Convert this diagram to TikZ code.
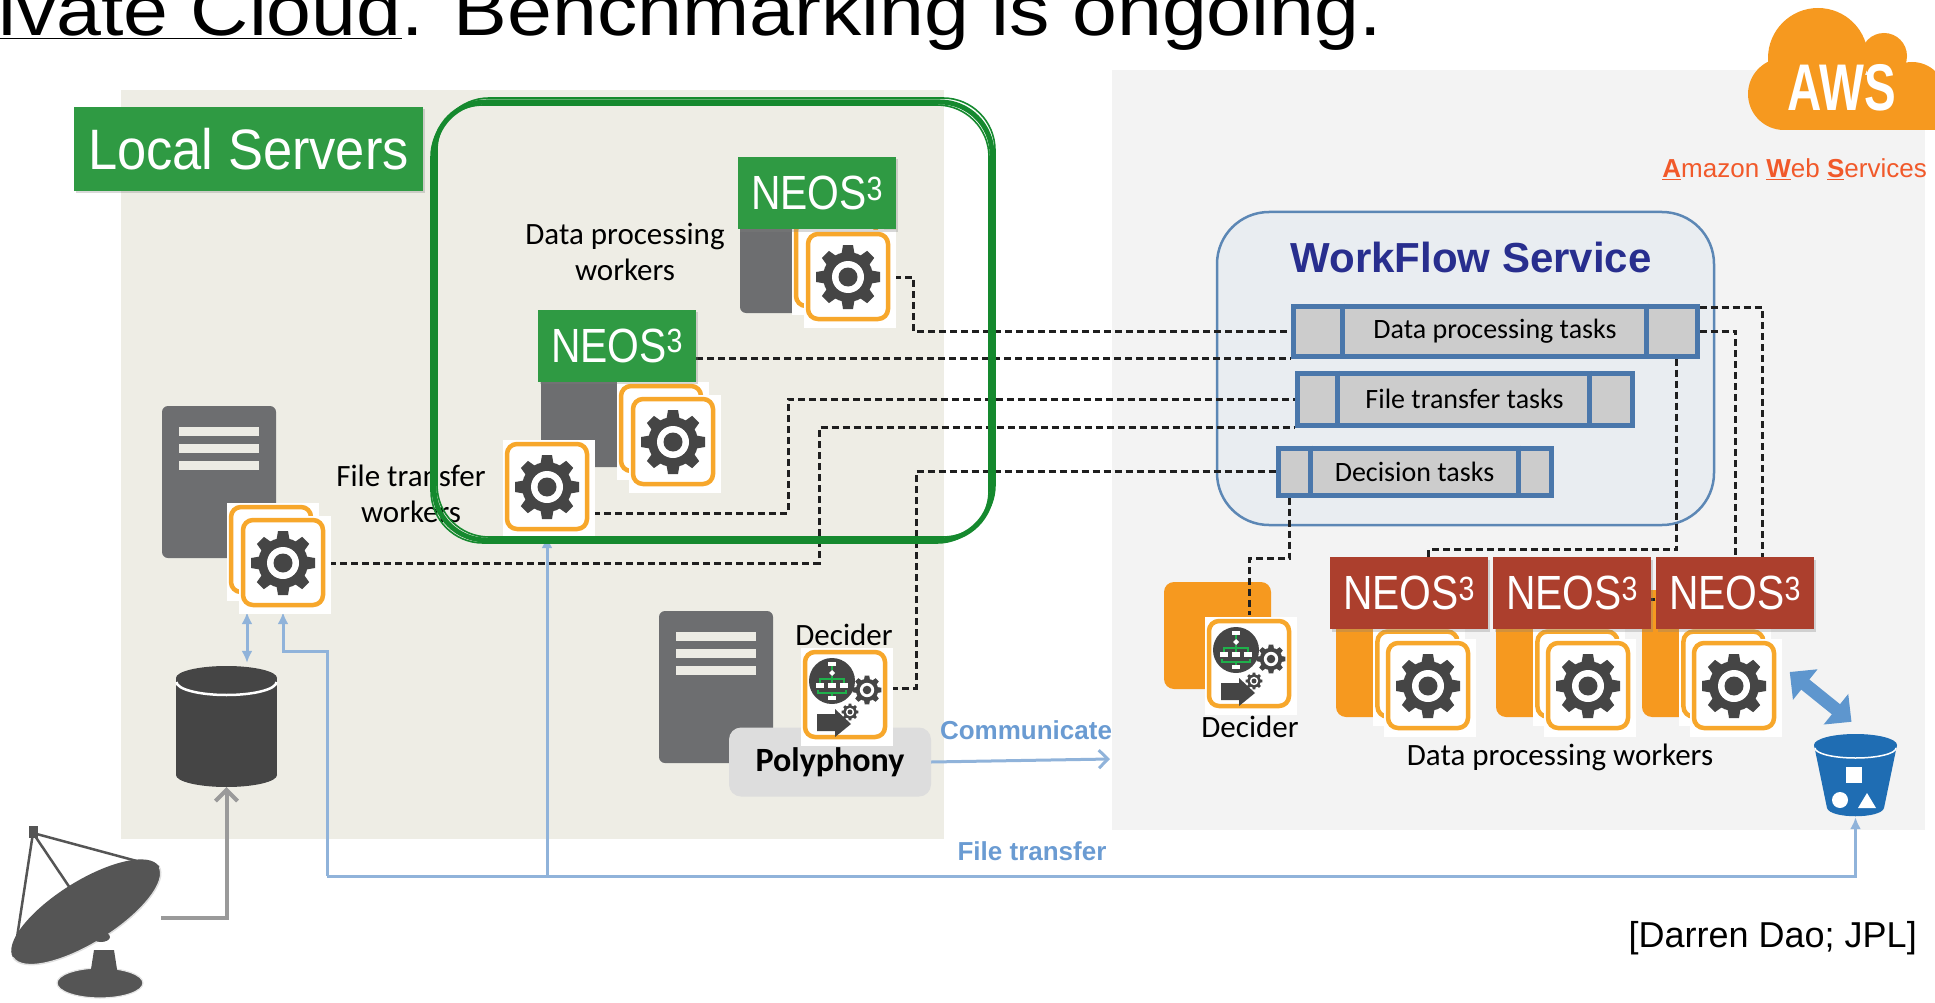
\documentclass[tikz,border=0pt]{standalone}
\usepackage{fontspec}
\setmainfont{Liberation Sans}
\newfontfamily\carlito{Carlito}
\usetikzlibrary{arrows.meta,calc,shadows}

% colours
\definecolor{beige}{HTML}{EEEDE5}
\definecolor{awsgray}{HTML}{F3F3F3}
\definecolor{neosgreen}{HTML}{2F9A43}
\definecolor{neosred}{HTML}{AC3F2D}
\definecolor{penGreen}{HTML}{15892E}
\definecolor{cardorange}{HTML}{F7A72B}
\definecolor{awsorange}{HTML}{F6991F}
\definecolor{gearc}{HTML}{454545}
\definecolor{servergray}{HTML}{6D6E70}
\definecolor{barc}{HTML}{ECEBE4}
\definecolor{queuefill}{HTML}{CCCCCC}
\definecolor{queueline}{HTML}{4A77AB}
\definecolor{wffill}{HTML}{E9EDF1}
\definecolor{wfline}{HTML}{5C87B5}
\definecolor{wftext}{HTML}{282E8E}
\definecolor{ftblue}{HTML}{90B3DA}
\definecolor{labelblue}{HTML}{6A9BD2}
\definecolor{bucketblue}{HTML}{1F6DB3}
\definecolor{fatblue}{HTML}{5E96CE}
\definecolor{amzred}{HTML}{F1592A}
\definecolor{polyfill}{HTML}{DDDDDD}
\definecolor{feedgray}{HTML}{9A9A9A}
\definecolor{dishc}{HTML}{555555}
\definecolor{flowgreen}{HTML}{1FB04B}

\pgfdeclarelayer{panel}
\pgfdeclarelayer{wires}
\pgfsetlayers{panel,wires,main}

\tikzset{
  % connectors
  task/.style={draw=black!88, line width=3, dash pattern=on 7pt off 4pt},
  ftline/.style={draw=ftblue, line width=3},
  ftarrow/.style={ftline, -{Latex[length=12pt,width=11pt]}},
  ftboth/.style={ftline, {Latex[length=12pt,width=11pt]}-{Latex[length=12pt,width=11pt]}},
  feed/.style={draw=feedgray, line width=4, -{Straight Barb[length=11pt,width=22pt]}},
  fat/.style={draw=fatblue, line width=13, {Triangle[length=20pt,width=38pt]}-{Triangle[length=20pt,width=38pt]}},
  % boxes and labels
  tag/.style={fill=neosgreen, text=white, inner sep=0, drop shadow={shadow xshift=1.5pt, shadow yshift=-2.5pt, opacity=.3}},
  neos/.style={tag, minimum width=158, minimum height=72, font=\fontsize{48}{48}\selectfont},
  note/.style={font=\carlito\fontsize{31}{36}\selectfont, align=center, inner sep=0},
  bluenote/.style={text=labelblue, font=\bfseries\fontsize{26}{26}\selectfont, inner sep=0},
  queue/.style={draw=queueline, fill=queuefill, line width=5, inner sep=0, font=\carlito\fontsize{28}{28}\selectfont},
  slot/.style={draw=queueline, line width=5},
  wfbox/.style={draw=wfline, fill=wffill, line width=2.5, rounded corners=52, minimum width=497, minimum height=313},
  poly/.style={fill=polyfill, rounded corners=12, minimum width=202, minimum height=69, inner sep=0, font=\carlito\bfseries\fontsize{34}{34}\selectfont},
  hold/.style={minimum width=92, minimum height=98, inner sep=0},
  sketch/.style={draw=penGreen, rounded corners=52},
  % icons
  pics/gear/.style={code={
    \fill[gearc] (0,0) circle (25);
    \foreach \a in {0,45,...,315}
      \fill[gearc, rotate=\a] (-7,-20) -- (-5,-32) -- (5,-32) -- (7,-20) -- cycle;
    \fill[white] (0,0) circle (16);
    \fill[gearc] (0,0) circle (9.5);
  }},
  pics/card/.style={code={
    \fill[white] (-44,-47) rectangle (48,51);
    \draw[cardorange, line width=4.5, rounded corners=10] (-40,-43) rectangle (40,42);
  }},
  pics/workers/.style={code={
    \pic at (-12,-13) {card};
    \pic {card};
    \pic {gear};
  }},
  pics/server/.style={code={
    \fill[servergray, rounded corners=6] (0,0) rectangle (114,152);
    \foreach \y in {21,38,55}
      \fill[barc] (17,\y) rectangle (97,\y+9);
  }},
  pics/decider/.style={code={
    \pic {card};
    % flow chart disc
    \fill[gearc] (-13,-14) circle (23);
    \fill[white] (-17,-33) rectangle (-9,-29);
    \fill[white] (-13,-25) -- (-10,-22) -- (-13,-19) -- (-16,-22) -- cycle;
    \foreach \x in {-29,-17,-5}
      \fill[white] (\x,-12) rectangle ++(8,5);
    \fill[white] (-17,1) rectangle (-9,5);
    \draw[flowgreen, line width=1.4] (-13,-29) -- (-13,-25) (-13,-19) -- (-13,-12)
      (-25,-12) -- (-25,-16) -- (-1,-16) -- (-1,-12)
      (-27,-5) -- (-27,-2) -- (1,-2) -- (1,-5) (-13,-2) -- (-13,1);
    \pic[scale=.45] at (22,-5) {gear};
    \pic[scale=.26] at (5,17) {gear};
    % next arrow
    \fill[gearc] (-28,19) -- (-10,19) -- (-10,14) -- (6,29) -- (-10,42) -- (-10,36) -- (-28,36) -- cycle;
  }},
}

\begin{document}
\begin{tikzpicture}[x=1pt,y=-1pt]

    \useasboundingbox (0,0) rectangle (1935,1003);

    % Panels for the local servers and for the cloud
    \begin{pgfonlayer}{panel}
        \fill[beige] (121,90) rectangle (944,839);
        \fill[awsgray] (1112,70) rectangle (1925,830);
        \node[wfbox] (wf) at (1465.5,368.5) {};
        % orange instances behind the cloud workers
        \fill[awsorange, rounded corners=10] (1164,582) rectangle (1271,689);
        \foreach \x in {1428,1588,1734}
            \fill[awsorange, rounded corners=10] (\x-92,590) rectangle (\x+10,717);
    \end{pgfonlayer}

    % Heading line cut at the top
    \node[anchor=base west, inner sep=0, xscale=1.12, font=\fontsize{72}{72}\selectfont] (title) at (-2,36)
        {\underline{ivate Cloud}. Benchmarking is ongoing.};

    % AWS cloud logo
    \fill[awsorange] (1818,58) circle (50);
    \fill[awsorange] (1884,56) circle (23);
    \fill[awsorange] (1912,96) circle (34);
    \fill[awsorange] (1784,94) circle (36);
    \fill[awsorange] (1784,75) rectangle (1935,130);
    \node[text=white, inner sep=0, xscale=.72, font=\bfseries\fontsize{66}{66}\selectfont] (aws) at (1842,88) {AWS};
    \node[anchor=base east, inner sep=0, text=amzred, font=\fontsize{26}{26}\selectfont] (amz) at (1927,178)
        {\underline{\textbf{A}}mazon \underline{\textbf{W}}eb \underline{\textbf{S}}ervices};

    % Servers
    \pic at (162,406) {server};
    \pic at (740,161) {server};
    \pic at (541,315) {server};
    \pic at (659,611) {server};
    \node[poly] (poly) at (830,762) {Polyphony};

    % Database
    \fill[gearc] (176,678) rectangle (277,775);
    \fill[gearc] (226.5,775) ellipse (50.5 and 12);
    \fill[gearc] (226.5,678) ellipse (50.5 and 12);
    \draw[white, line width=2.5] (176.5,682) arc[start angle=180, end angle=0, x radius=50, y radius=13];
    \node[minimum width=101, minimum height=121, inner sep=0] (db) at (226.5,726.5) {};

    % Satellite dish
    \fill[dishc] (100,983) ellipse (43 and 15);
    \draw[white!80!gray, line width=1.2] (100,983) ellipse (43 and 15);
    \fill[dishc] (94,950) -- (114,950) -- (119,982) -- (89,982) -- cycle;
    \begin{scope}[shift={(86,912)}, rotate=32]
        \fill[dishc] (0,0) ellipse (86 and 31);
        \draw[white!75!gray, line width=1.5] (86,0) arc[start angle=0, end angle=180, x radius=86, y radius=31];
    \end{scope}
    \draw[dishc, line width=2.5] (33,833) -- (159,867) (33,833) -- (14,957) (33,833) -- (103,937);
    \fill[dishc] (101,937) ellipse (9 and 5);
    \fill[dishc] (29,826) rectangle (38,838);
    \coordinate (dish) at (161,918);

    % Local workers
    \pic at (848,277) {workers};
    \node[hold] (w1) at (848,277) {};
    \pic at (673,442) {workers};
    \node[hold] (w2) at (673,442) {};
    \pic at (283,563) {workers};
    \node[hold] (lfw) at (283,563) {};
    \pic at (547,487) {card};
    \pic at (547,487) {gear};
    \node[hold] (fsw) at (547,487) {};
    \pic at (845,695) {decider};
    \node[hold] (ldc) at (845,695) {};

    % Cloud workers
    \pic at (1249,664) {decider};
    \node[hold] (adc) at (1249,664) {};
    \foreach \x/\n in {1428/aw1,1588/aw2,1734/aw3} {
        \pic[scale=.88] at (\x,686) {workers};
        \node[hold, minimum width=81, minimum height=86] (\n) at (\x,686) {};
    }

    % S3 bucket
    \fill[bucketblue] (1814,745) -- (1827,808) .. controls (1830,819) and (1881,819) .. (1884,808) -- (1897,745) -- cycle;
    \fill[bucketblue] (1855.5,745) ellipse (41.5 and 11);
    \draw[white, line width=1.5] (1815,748) arc[start angle=180, end angle=0, x radius=40.5, y radius=10];
    \fill[white] (1846,767) rectangle (1862,783);
    \fill[white] (1840,800) circle (8);
    \fill[white] (1867,793) -- (1876,808) -- (1858,808) -- cycle;
    \node[minimum width=83, minimum height=83, inner sep=0] (s3) at (1855.5,775.5) {};

    % NEOS3 labels
    \node[tag, minimum width=349, minimum height=84, font=\fontsize{57}{57}\selectfont] (LS) at (248.5,149)
        {\scalebox{.92}[1]{Local Servers}};
    \node[neos] (NT) at (817,193) {\scalebox{.85}[1]{NEOS\textsuperscript{3}}};
    \node[neos] (NB) at (617,345.5) {\scalebox{.85}[1]{NEOS\textsuperscript{3}}};
    \foreach \x/\n in {1409/R1,1572/R2,1735/R3}
        \node[neos, fill=neosred] (\n) at (\x,593) {\scalebox{.85}[1]{NEOS\textsuperscript{3}}};

    % Texts
    \node[note] (dpl) at (625,252) {Data processing\\workers};
    \node[note] (ftl) at (411,494) {File transfer\\workers};
    \node[note, anchor=base] (ldl) at (844,645) {Decider};
    \node[note, anchor=base] (adl) at (1250,737) {Decider};
    \node[note, anchor=base] (dpa) at (1560,765) {Data processing workers};
    \node[bluenote, anchor=base] (cml) at (1026,739) {Communicate};
    \node[bluenote, anchor=base] (fxl) at (1032,860) {File transfer};
    \node[anchor=base east, inner sep=0, font=\fontsize{36}{36}\selectfont] (cite) at (1917,947) {[Darren Dao; JPL]};

    % WorkFlow service and its task lists
    \node[anchor=base, inner sep=0, text=wftext, font=\bfseries\fontsize{42}{42}\selectfont] (wft) at (1471,272) {WorkFlow Service};
    \node[queue, minimum width=404, minimum height=50] (dpq) at (1495,331) {Data processing tasks};
    \node[queue, minimum width=335, minimum height=52] (ftq) at (1464.5,399) {File transfer tasks};
    \node[queue, minimum width=273, minimum height=47] (dq) at (1414.5,471.5) {Decision tasks};
    \foreach \q/\l/\r in {dpq/52/53, ftq/43/45, dq/35/35} {
        \draw[slot] ([xshift=\l]\q.north west) -- ([xshift=\l]\q.south west);
        \draw[slot] ([xshift=-\r]\q.north east) -- ([xshift=-\r]\q.south east);
    }

    % Free ends
    \coordinate (comm) at (1110,759);
    \coordinate (ftL) at (327,876);
    \coordinate (ftM) at (547,876);

    % Connectors
    \begin{pgfonlayer}{wires}
        % workers and deciders to the task lists
        \draw[task] (w1.east) -- ++(19,0) |- (dpq.west);
        \draw[task] (NB.east |- dpq.south west) -- (dpq.south west);
        \draw[task] ($(fsw.east)+(0,26)$) -- ++(195,0) |- (ftq.west);
        \draw[task] (lfw.east) -- ++(490,0) |- (ftq.south west);
        \draw[task] ($(ldc.east)+(0,-7)$) -- ++(25,0) |- (dq.west);
        \draw[task] ($(dq.south west)+(14,0)$) -- ++(0,61) -| (adc.north);
        \draw[task] ($(dpq.south east)+(-23,0)$) -- ++(0,191) -| (aw1.north);
        \draw[task] ($(dpq.north east)+(0,4)$) -| ($(aw3.north)+(28,0)$);
        \draw[task] (dpq.east) -- ++(36,0) |- ($(aw2.north)+(0,-43)$) -- (aw2.north);

        % file transfer lines
        \draw[ftarrow] (ftL) -| (s3.south);
        \draw[ftarrow] (ftL) |- ($(lfw.south)+(0,39)$) -- (lfw.south);
        \draw[ftarrow] (ftM) -- (fsw.south);
        \draw[ftboth] ($(db.north)+(20.5,-3)$) -- ($(lfw.south)+(-36,0)$);
        \draw[ftline, -{Straight Barb[length=9pt,width=18pt]}] (poly.east) -- (comm);
        \draw[feed] (dish) -| (db.south);
        \draw[fat] ($(aw3.east)+(15,-14)$) -- ($(s3.north)+(-4,-12)$);
    \end{pgfonlayer}

    % Hand drawn frame round the NEOS3 workers
    \draw[sketch, line width=5] (434,102) rectangle (992,540);
    \draw[sketch, line width=1.6] (437,98) rectangle (995,537);
    \draw[sketch, line width=1.6] (431,105) rectangle (989,543);

\end{tikzpicture}
\end{document}
